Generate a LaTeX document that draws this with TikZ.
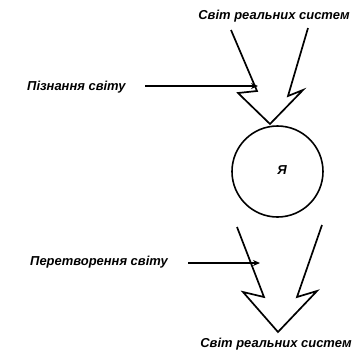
\documentclass[tikz,border=0pt]{standalone}
\usepackage{fontspec}
\setmainfont{Liberation Sans}
\usetikzlibrary{arrows.meta}
\tikzset{
  lbl/.style={font=\bfseries\itshape\fontsize{13}{15}\selectfont, inner sep=0pt},
  bigarrow/.style={draw=black, line width=1.7pt, line join=miter},
  feed/.style={draw=black, line width=1.9pt, -{Stealth[length=7pt,width=6pt]}},
  me/.style={circle, draw=black, line width=1.6pt, minimum size=91bp, inner sep=0pt}
}
\begin{document}
\begin{tikzpicture}[x=1bp,y=-1bp]
\useasboundingbox (0,0) rectangle (354,354);
% labels
\node[lbl] (top) at (274,16) {Світ реальних систем};
\node[lbl] (bot) at (276,344) {Світ реальних систем};
\node[lbl, anchor=west] (know) at (27,87) {Пізнання світу};
\node[lbl, anchor=west] (trans) at (30,262) {Перетворення світу};
% circle
\node[me] (ya) at (277.5,171.5) {};
\node[lbl] (yal) at (282,170) {Я};
% top big arrow
\coordinate (t1) at (231,30);
\coordinate (t2) at (257,91);
\coordinate (t3) at (238,93);
\coordinate (t4) at (270,124);
\coordinate (t5) at (303,90);
\coordinate (t6) at (288,96);
\coordinate (t7) at (308,28);
\draw[bigarrow] (t1) -- (t2) -- (t3) -- (t4) -- (t5) -- (t6) -- (t7);
% bottom big arrow
\coordinate (b1) at (237,227);
\coordinate (b2) at (264,297);
\coordinate (b3) at (243,292);
\coordinate (b4) at (278,332);
\coordinate (b5) at (317,291);
\coordinate (b6) at (297,297);
\coordinate (b7) at (322,225);
\draw[bigarrow] (b1) -- (b2) -- (b3) -- (b4) -- (b5) -- (b6) -- (b7);
% feeds
\coordinate (kend) at (258,86);
\coordinate (tend) at (260,263);
\draw[feed] (145,86) -- (kend);
\draw[feed] (188,263) -- (tend);
\end{tikzpicture}
\end{document}
